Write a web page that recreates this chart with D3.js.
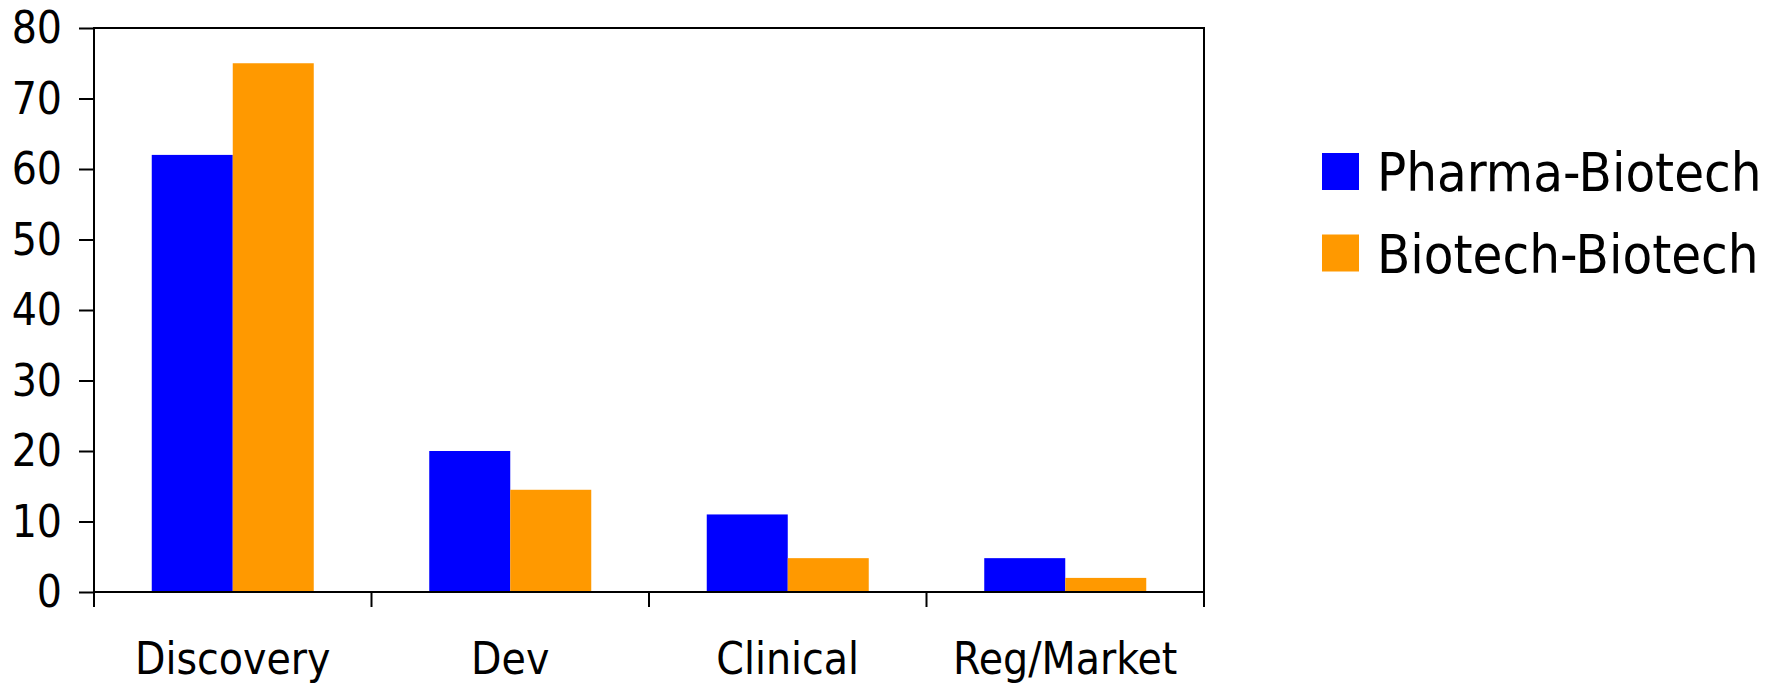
<!DOCTYPE html>
<html>
<head>
<meta charset="utf-8">
<script src="https://cdnjs.cloudflare.com/ajax/libs/d3/7.8.5/d3.min.js"></script>
<style>
  body { margin: 0; background: #fff; }
  text { font-family: "DejaVu Sans Condensed", "DejaVu Sans", sans-serif; fill: #000; }
</style>
</head>
<body>
<div id="chart"></div>
<script>
// data
const categories = ["Discovery", "Dev", "Clinical", "Reg/Market"];
const series = ["Pharma-Biotech", "Biotech-Biotech"];
const pharmaBiotech = [62, 20, 11, 4.8];
const biotechBiotech = [75, 14.5, 4.8, 2];
const yTicks = [0, 10, 20, 30, 40, 50, 60, 70, 80];
const colors = ["#0000ff", "#ff9900"];

const W = 1774, H = 685;
const plot = {left: 94, right: 1204, top: 28, bottom: 592};

const svg = d3.select("#chart").append("svg")
    .attr("width", W)
    .attr("height", H);

const x = d3.scaleBand()
    .domain(categories)
    .range([plot.left, plot.right])
    .padding(0);

const x1 = d3.scaleBand()
    .domain(series)
    .range([0, x.bandwidth()])
    .paddingInner(0)
    .paddingOuter(0.713);

const y = d3.scaleLinear()
    .domain([0, 80])
    .range([plot.bottom, plot.top]);

const color = d3.scaleOrdinal().domain(series).range(colors);

const rows = categories.map((c, i) => ({cat: c, values: [pharmaBiotech[i], biotechBiotech[i]]}));

// bars
svg.append("g")
  .selectAll("g")
  .data(rows)
  .enter().append("g")
    .attr("transform", d => "translate(" + x(d.cat) + ",0)")
  .selectAll("rect")
  .data(d => d.values.map((v, j) => ({key: series[j], value: v})))
  .enter().append("rect")
    .attr("x", d => x1(d.key))
    .attr("y", d => y(d.value))
    .attr("width", x1.bandwidth())
    .attr("height", d => y(0) - y(d.value))
    .attr("fill", d => color(d.key));

// frame around plot
svg.append("rect")
    .attr("x", plot.left)
    .attr("y", plot.top)
    .attr("width", plot.right - plot.left)
    .attr("height", plot.bottom - plot.top)
    .attr("fill", "none")
    .attr("stroke", "#000")
    .attr("stroke-width", 2);

// y axis
const yAxis = svg.append("g")
    .attr("transform", "translate(" + plot.left + ",0)")
    .call(d3.axisLeft(y).tickValues(yTicks).tickSize(15).tickPadding(17).tickFormat(d3.format("d")));
yAxis.select(".domain").remove();
yAxis.selectAll("line").attr("stroke", "#000").attr("stroke-width", 2);
yAxis.selectAll("text")
    .style("font-size", "44px")
    .attr("font-family", null)
    .attr("dy", "0.34em");

// x axis: ticks between categories
const bounds = categories.map(c => x(c)).concat([x.range()[1]]);
svg.append("g")
  .selectAll("line")
  .data(bounds)
  .enter().append("line")
    .attr("x1", d => d).attr("x2", d => d)
    .attr("y1", plot.bottom).attr("y2", plot.bottom + 15)
    .attr("stroke", "#000")
    .attr("stroke-width", 2);

svg.append("g")
  .selectAll("text")
  .data(categories)
  .enter().append("text")
    .attr("x", d => x(d) + x.bandwidth() / 2)
    .attr("y", 674)
    .attr("text-anchor", "middle")
    .style("font-size", "44px")
    .text(d => d);

// legend
const legend = svg.append("g")
    .attr("transform", "translate(1322,153)");
const item = legend.selectAll("g")
    .data(series)
    .enter().append("g")
    .attr("transform", (d, i) => "translate(0," + (i * 81.5) + ")");
item.append("rect")
    .attr("width", 37)
    .attr("height", 37)
    .attr("fill", d => color(d));
item.append("text")
    .attr("x", 55)
    .attr("y", 38)
    .style("font-size", "54px")
    .text(d => d);
</script>
</body>
</html>
